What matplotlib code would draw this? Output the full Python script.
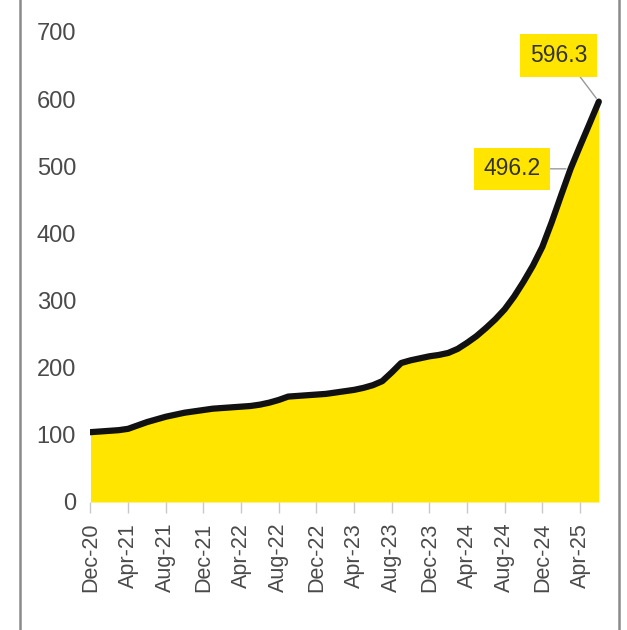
#!/usr/bin/env python3

'''Monthly series Dec-20 to Jun-25, yellow area chart with two callouts.'''

import pandas as pd
import matplotlib
matplotlib.use('Agg')
import matplotlib.pyplot as plt
from matplotlib.lines import Line2D

plt.rcParams['font.family'] = ['Liberation Sans', 'DejaVu Sans']

YELLOW = '#FFE500'
TEXT = '#4a4a4a'

months = pd.date_range('2020-12-01', '2025-06-01', freq='MS')
values = [104, 105, 106, 107, 109, 114, 119, 123, 127, 130, 133, 135,
          137, 139, 140, 141, 142, 143, 145, 148, 152, 157, 158, 159,
          160, 161, 163, 165, 167, 170, 174, 180, 193, 207, 211, 214,
          217, 219, 222, 228, 237, 247, 259, 272, 287, 306, 328, 352,
          380, 417, 457, 496.2, 530, 563, 596.3]
y_ticks = [0, 100, 200, 300, 400, 500, 600, 700]
callout_idx = [51, 54]
callout_text = ['496.2', '596.3']

x = list(range(len(months)))
tick_pos = x[::4]
tick_labels = [m.strftime('%b-%y') for m in months[::4]]

W, H = 627, 630
fig = plt.figure(figsize=(W / 100, H / 100), dpi=100)
# axes placed in pixels: data x=0 at px 90, y=0 at px 502 from top
ax = fig.add_axes([90 / W, (H - 502) / H, 514 / W, 470 / H])

ax.fill_between(x, values, 0, color=YELLOW, linewidth=0, zorder=1)
ax.plot(x, values, color='#111111', linewidth=4.5, solid_capstyle='round',
        solid_joinstyle='round', zorder=3)

ax.set_xlim(-0.05, 54.55)
ax.set_ylim(0, 700)
ax.set_yticks(y_ticks)
ax.set_yticklabels([str(v) for v in y_ticks], fontsize=17, color=TEXT)
ax.set_xticks(tick_pos)
ax.set_xticklabels(tick_labels, rotation=90, fontsize=15.5, color=TEXT)
ax.tick_params(axis='y', length=0, pad=10)
ax.tick_params(axis='x', length=8, width=1, color='#c8c8c8', pad=7)
for s in ax.spines.values():
    s.set_visible(False)

# callouts
box = dict(boxstyle='square,pad=0.42', facecolor=YELLOW, edgecolor='none')
ax.annotate(callout_text[1], xy=(callout_idx[1], values[callout_idx[1]]),
            xytext=(49.7, 665), fontsize=16.5, color='#333333', ha='center',
            va='center', bbox=box,
            arrowprops=dict(arrowstyle='-', color='#999999', lw=1,
                            shrinkA=0, shrinkB=3,
                            relpos=(0.75, 0.0)))
ax.annotate(callout_text[0], xy=(callout_idx[0] - 0.2, values[callout_idx[0]]),
            xytext=(44.8, 496.2), fontsize=16.5, color='#333333', ha='center',
            va='center', bbox=box,
            arrowprops=dict(arrowstyle='-', color='#999999', lw=1,
                            shrinkA=0, shrinkB=2, relpos=(1.0, 0.5)))

# frame lines at the image edges
fig.add_artist(Line2D([20 / W, 20 / W], [0, 1], color='#8a8a8a', lw=1.8))
fig.add_artist(Line2D([619 / W, 619 / W], [0, 1], color='#8a8a8a', lw=1.8))

fig.savefig('out.png', dpi=100, facecolor='white')
